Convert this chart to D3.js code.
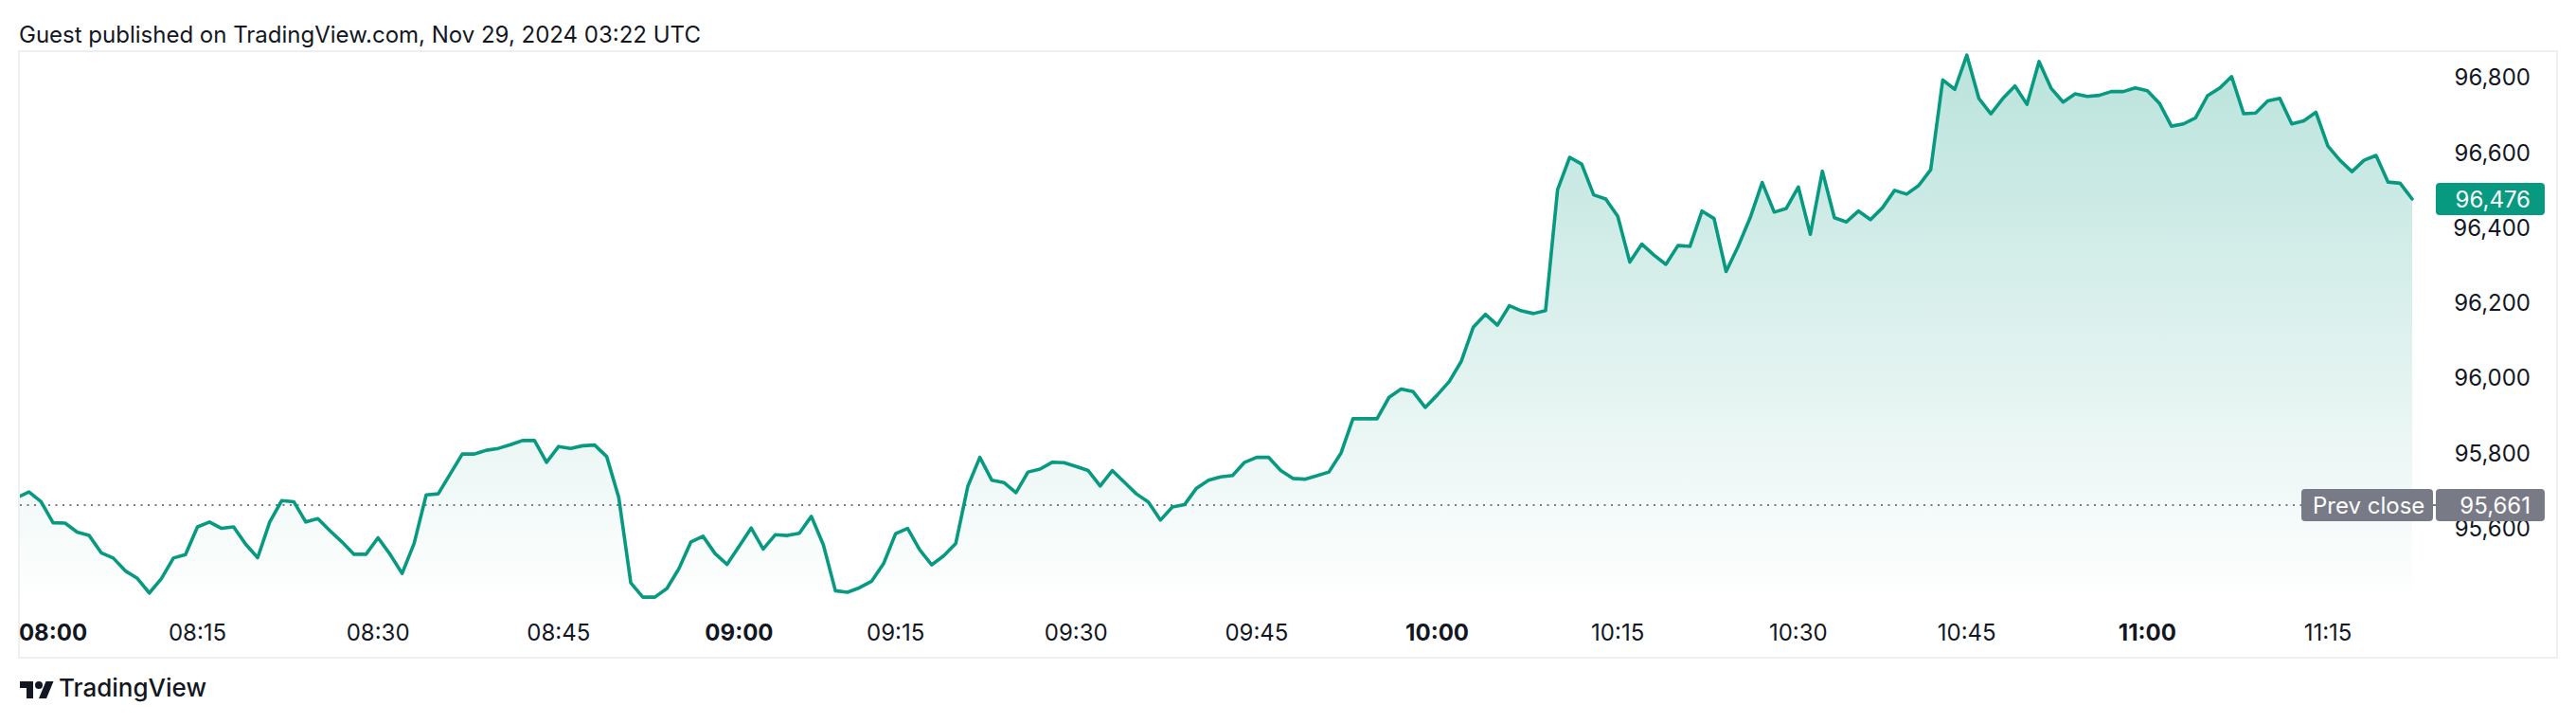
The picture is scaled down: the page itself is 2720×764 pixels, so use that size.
<!DOCTYPE html>
<html>
<head>
<meta charset="utf-8">
<script src="https://cdn.jsdelivr.net/npm/d3@7"></script>
<style>
  html, body { margin: 0; padding: 0; background: #ffffff; }
  svg { display: block; }
  text { font-family: Inter, "Noto Sans", sans-serif; }
</style>
</head>
<body>
<svg id="chart" width="2720" height="764"></svg>
<script>
// ---------- DATA ----------
const titleText = "Guest published on TradingView.com, Nov 29, 2024 03:22 UTC";

// one close price per 1-minute bar (first bar is just left of the visible pane)
const prices = [
  95681, 95696, 95670, 95614, 95613, 95589, 95580, 95534, 95520, 95486,
  95466, 95427, 95465, 95520, 95529, 95603, 95616, 95599, 95603, 95557,
  95521, 95616, 95673, 95670, 95616, 95625, 95593, 95563, 95530, 95530,
  95574, 95530, 95479, 95559, 95688, 95691, 95744, 95797, 95797, 95807,
  95812, 95822, 95833, 95833, 95775, 95817, 95812, 95819, 95821, 95790,
  95681, 95454, 95416, 95416, 95439, 95492, 95563, 95578, 95532, 95503,
  95551, 95600, 95544, 95582, 95580, 95586, 95631, 95555, 95433, 95429,
  95441, 95458, 95505, 95585, 95599, 95542, 95502, 95526, 95559, 95711,
  95788, 95727, 95721, 95694, 95749, 95757, 95775, 95774, 95764, 95753,
  95712, 95753, 95722, 95691, 95669, 95621, 95656, 95662, 95706, 95727,
  95736, 95740, 95775, 95788, 95788, 95753, 95732, 95730, 95739, 95749,
  95799, 95891, 95891, 95891, 95948, 95970, 95963, 95921, 95954, 95990,
  96044, 96135, 96169, 96140, 96192, 96178, 96171, 96179, 96501, 96587,
  96569, 96487, 96476, 96430, 96308, 96356, 96327, 96302, 96352, 96350,
  96444, 96424, 96283, 96350, 96426, 96520, 96441, 96451, 96508, 96382,
  96550, 96426, 96415, 96444, 96421, 96453, 96499, 96489, 96512, 96554,
  96793, 96768, 96859, 96744, 96703, 96744, 96777, 96728, 96842, 96771,
  96734, 96756, 96749, 96752, 96762, 96762, 96772, 96764, 96731, 96670,
  96676, 96692, 96751, 96771, 96802, 96703, 96705, 96737, 96744, 96676,
  96684, 96707, 96617, 96579, 96549, 96579, 96592, 96521, 96518, 96476
];

const timeTickLabels = ["08:00","08:15","08:30","08:45","09:00","09:15","09:30","09:45","10:00","10:15","10:30","10:45","11:00","11:15"];
const timeTickBars   = [3, 15, 30, 45, 60, 73, 88, 103, 118, 133, 148, 162, 177, 192];
const timeTickBold   = [true,false,false,false,true,false,false,false,true,false,false,false,true,false];

const priceTicks = [95600, 95800, 96000, 96200, 96400, 96600, 96800];
const prevClose = 95661;
const lastPrice = 96476;

// ---------- LAYOUT ----------
const W = 2720, H = 764;
const panel = { left: 20, top: 54, right: 2700, bottom: 694 };
const paneBottom = 636;
const plotRight = 2560;

const svg = d3.select("#chart");
svg.append("rect").attr("width", W).attr("height", H).attr("fill", "#ffffff");

const x = d3.scaleLinear().domain([0, prices.length - 1]).range([17.9, 2547]);
const y = d3.scaleLinear().domain([prevClose, lastPrice]).range([533, 210]);
const fmt = d3.format(",");

// title
svg.append("text")
  .attr("x", 20).attr("y", 45)
  .attr("font-size", 24).attr("fill", "#131722")
  .text(titleText);

// panel border
svg.append("rect")
  .attr("x", panel.left).attr("y", panel.top)
  .attr("width", panel.right - panel.left).attr("height", panel.bottom - panel.top)
  .attr("fill", "none").attr("stroke", "#eaebf0").attr("stroke-width", 1.6);

// defs
const defs = svg.append("defs");
const grad = defs.append("linearGradient")
  .attr("id", "areaGrad").attr("gradientUnits", "userSpaceOnUse")
  .attr("x1", 0).attr("x2", 0).attr("y1", 54).attr("y2", paneBottom);
grad.append("stop").attr("offset", 0).attr("stop-color", "#089981").attr("stop-opacity", 0.28);
grad.append("stop").attr("offset", 1).attr("stop-color", "#089981").attr("stop-opacity", 0.0);

defs.append("clipPath").attr("id", "paneClip")
  .append("rect").attr("x", panel.left + 1).attr("y", panel.top + 1)
  .attr("width", plotRight - panel.left - 1).attr("height", paneBottom - panel.top - 1);

const pane = svg.append("g").attr("clip-path", "url(#paneClip)");

// area
const area = d3.area()
  .x((d, i) => x(i))
  .y0(paneBottom)
  .y1(d => y(d));
pane.append("path").datum(prices)
  .attr("d", area).attr("fill", "url(#areaGrad)");

// prev close dotted line
pane.append("line")
  .attr("x1", panel.left + 1).attr("x2", 2430)
  .attr("y1", y(prevClose)).attr("y2", y(prevClose))
  .attr("stroke", "#787b86").attr("stroke-width", 2)
  .attr("stroke-dasharray", "2 5.5");

// line
const line = d3.line().x((d, i) => x(i)).y(d => y(d));
pane.append("path").datum(prices)
  .attr("d", line).attr("fill", "none")
  .attr("stroke", "#089981").attr("stroke-width", 3.6)
  .attr("stroke-linejoin", "round").attr("stroke-linecap", "round");

// time axis labels
const tAxis = svg.append("g");
timeTickLabels.forEach((lab, k) => {
  tAxis.append("text")
    .attr("x", x(timeTickBars[k])).attr("y", 676)
    .attr("text-anchor", "middle")
    .attr("font-size", 24)
    .attr("font-weight", timeTickBold[k] ? 700 : 400)
    .attr("fill", "#131722")
    .text(lab);
});

// price axis labels
const pAxis = svg.append("g");
priceTicks.forEach(v => {
  pAxis.append("text")
    .attr("x", 2672).attr("y", y(v) + 8.7)
    .attr("text-anchor", "end")
    .attr("font-size", 24).attr("fill", "#131722")
    .text(fmt(v));
});

// last price label
const lp = svg.append("g");
lp.append("rect")
  .attr("x", 2572).attr("y", y(lastPrice) - 17).attr("width", 115).attr("height", 34)
  .attr("rx", 4).attr("fill", "#089981");
lp.append("text")
  .attr("x", 2672).attr("y", y(lastPrice) + 8.7).attr("text-anchor", "end")
  .attr("font-size", 24).attr("fill", "#ffffff").text(fmt(lastPrice));

// prev close label
const pc = svg.append("g");
pc.append("rect")
  .attr("x", 2430).attr("y", y(prevClose) - 17).attr("width", 139).attr("height", 34)
  .attr("rx", 4).attr("fill", "#787b86");
pc.append("text")
  .attr("x", 2442).attr("y", y(prevClose) + 8.7)
  .attr("font-size", 24).attr("fill", "#ffffff").text("Prev close");
pc.append("line")
  .attr("x1", 2569).attr("x2", 2572).attr("y1", y(prevClose)).attr("y2", y(prevClose))
  .attr("stroke", "#787b86").attr("stroke-width", 2);
pc.append("rect")
  .attr("x", 2572).attr("y", y(prevClose) - 17).attr("width", 115).attr("height", 34)
  .attr("rx", 4).attr("fill", "#787b86");
pc.append("text")
  .attr("x", 2672).attr("y", y(prevClose) + 8.7).attr("text-anchor", "end")
  .attr("font-size", 24).attr("fill", "#ffffff").text(fmt(prevClose));

// TradingView logo
const logo = svg.append("g").attr("transform", "translate(21,715)").attr("fill", "#131722");
logo.append("path").attr("d", "M14 22H7V11H0V4h14v18zM28 22h-8l7.5-18h8L28 22z");
logo.append("circle").attr("cx", 20).attr("cy", 8).attr("r", 4);
svg.append("text")
  .attr("x", 62).attr("y", 735)
  .attr("font-size", 26).attr("font-weight", 500).attr("fill", "#131722")
  .text("TradingView");
</script>
</body>
</html>
